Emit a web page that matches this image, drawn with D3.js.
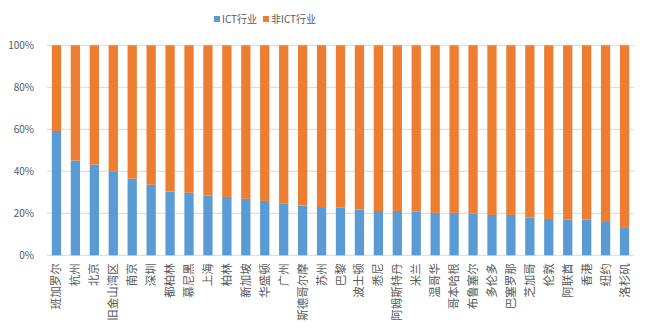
<!DOCTYPE html>
<html><head><meta charset="utf-8">
<script src="https://cdn.jsdelivr.net/npm/d3@7"></script>
<style>body{margin:0;background:#fff}svg{display:block}</style>
</head><body>
<script>
const categories = ["班加罗尔","杭州","北京","旧金山湾区","南京","深圳","都柏林","慕尼黑","上海","柏林","新加坡","华盛顿","广州","斯德哥尔摩","苏州","巴黎","波士顿","悉尼","阿姆斯特丹","米兰","温哥华","哥本哈根","布鲁塞尔","多伦多","巴塞罗那","芝加哥","伦敦","阿联酋","香港","纽约","洛杉矶"];
const ictShare = [59.2,45.1,43.2,40.0,36.5,33.6,30.4,29.8,28.5,27.8,26.9,25.9,24.6,23.7,23.0,22.7,21.8,21.1,21.1,20.8,20.2,20.2,19.8,19.2,19.2,17.9,17.3,17.0,17.0,16.3,13.4];
const nonIctShare = ictShare.map(v => 100 - v);
const seriesNames = ["ICT行业","非ICT行业"];
const yTicks = [0,20,40,60,80,100];
const colors = ["#5B9BD5","#ED7D31"];

const W = 649, H = 331;
const m = {left:47, right:15, top:45.3, bottom:75.7};
const svg = d3.select("body").append("svg").attr("width",W).attr("height",H);
const font = "'Noto Sans CJK SC', 'Microsoft YaHei', sans-serif";

const x = d3.scaleBand().domain(categories).range([m.left, W - m.right]).paddingInner(0.51).paddingOuter(0.255);
const y = d3.scaleLinear().domain([0,100]).range([H - m.bottom, m.top]);

// gridlines
svg.append("g").selectAll("line").data(yTicks).join("line")
  .attr("x1", m.left).attr("x2", W - m.right)
  .attr("y1", d => y(d)).attr("y2", d => y(d))
  .attr("stroke", "#D9D9D9").attr("stroke-width", 1);

// y labels
svg.append("g").selectAll("text").data(yTicks).join("text")
  .attr("x", 34).attr("y", d => y(d)).attr("dy","0.35em")
  .attr("text-anchor","end").attr("font-family", font).attr("font-size", 10)
  .attr("fill","#595959").text(d => d + "%");

// stacked data
const rows = categories.map((c,i) => ({cat:c, a:ictShare[i], b:nonIctShare[i]}));
const stack = d3.stack().keys(["a","b"])(rows);
svg.append("g").selectAll("g").data(stack).join("g")
  .attr("fill", (d,i) => colors[i])
  .selectAll("rect").data(d => d).join("rect")
  .attr("x", d => x(d.data.cat)).attr("width", x.bandwidth())
  .attr("y", d => y(d[1])).attr("height", d => y(d[0]) - y(d[1]));

// x labels (rotated -90)
svg.append("g").selectAll("text").data(categories).join("text")
  .attr("transform", d => `translate(${x(d) + x.bandwidth()/2},${H - m.bottom + 8}) rotate(-90)`)
  .attr("text-anchor","end").attr("dy","0.35em")
  .attr("font-family", font).attr("font-size", 11.5).attr("fill","#595959")
  .text(d => d);

// legend
const lg = svg.append("g").attr("font-family", font).attr("font-size", 10).attr("fill","#595959");
const items = [{x:214, name:seriesNames[0], c:colors[0]},{x:263, name:seriesNames[1], c:colors[1]}];
items.forEach(it => {
  lg.append("rect").attr("x", it.x).attr("y", 16).attr("width", 6).attr("height", 6).attr("fill", it.c);
  lg.append("text").attr("x", it.x + 8).attr("y", 19).attr("dy","0.35em").text(it.name);
});
</script>
</body></html>
